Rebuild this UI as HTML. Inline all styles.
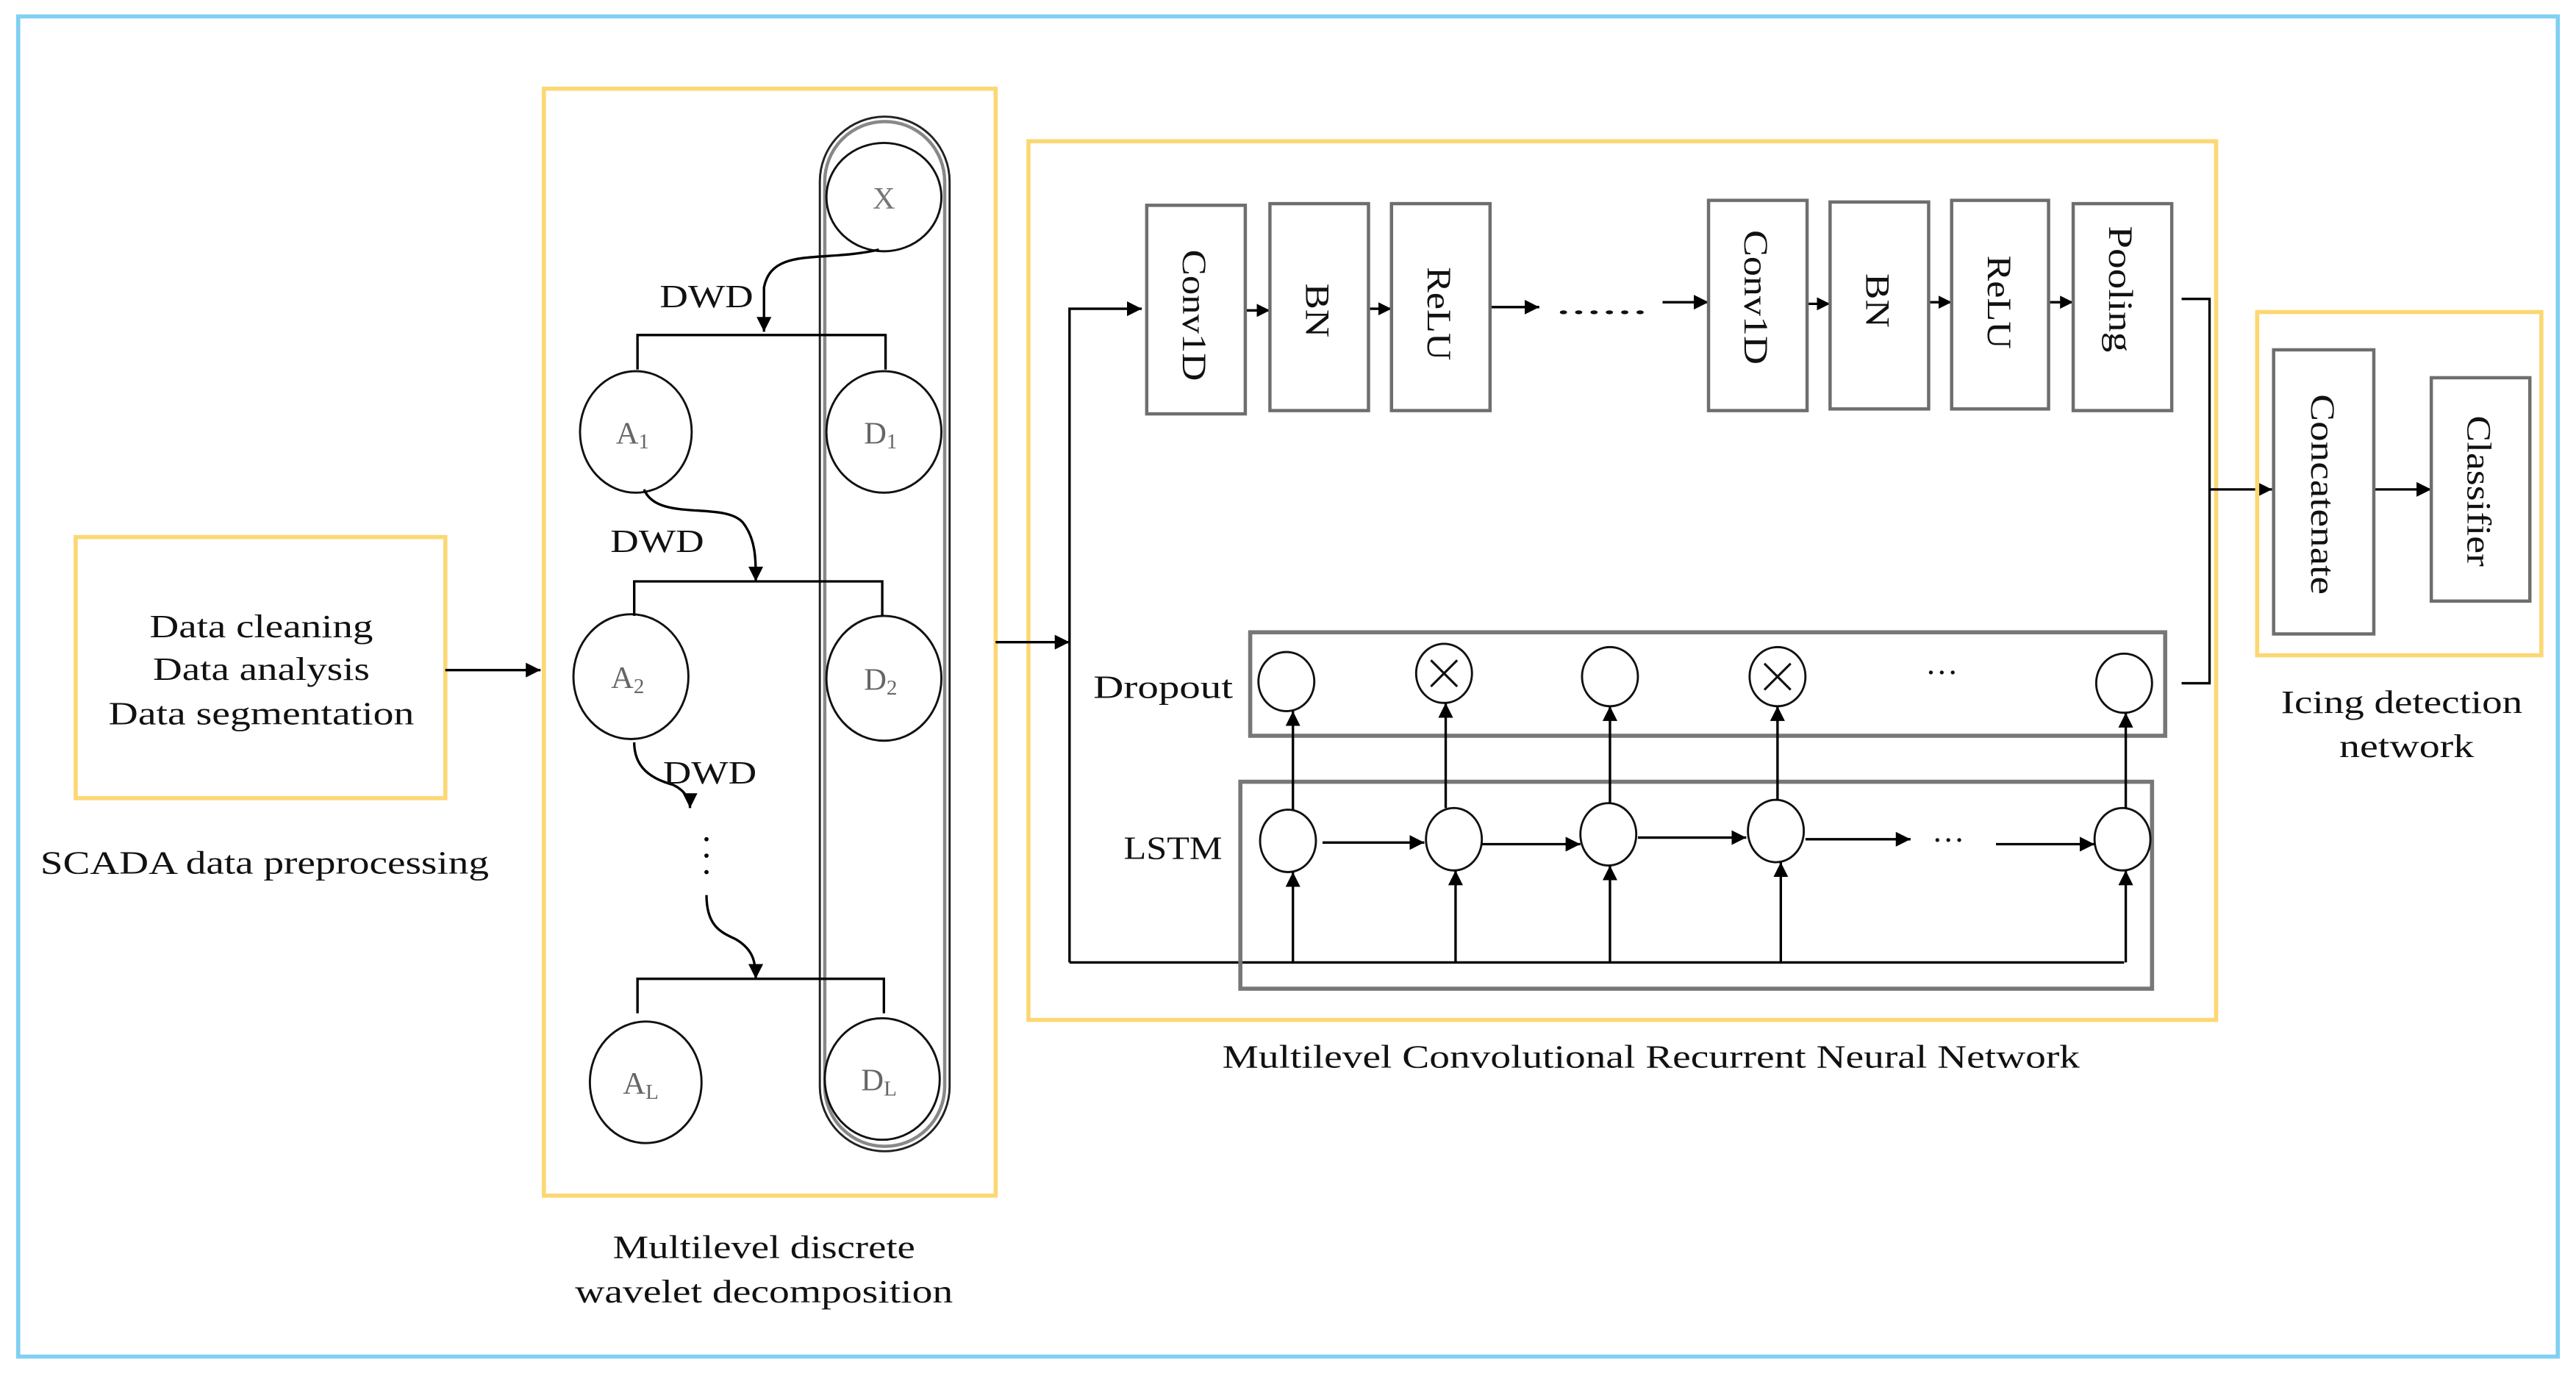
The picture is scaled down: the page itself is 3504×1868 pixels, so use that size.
<!DOCTYPE html>
<html><head><meta charset="utf-8"><style>
html,body{margin:0;padding:0;background:#fff;}
svg{display:block;}
text{font-family:"Liberation Serif",serif;fill:#111;}
</style></head><body>
<svg width="3504" height="1868" viewBox="0 0 1568 836" xmlns="http://www.w3.org/2000/svg">
<defs>
<marker id="a" viewBox="0 0 10 10" refX="10" refY="5" markerWidth="8" markerHeight="8" orient="auto" markerUnits="userSpaceOnUse"><path d="M0,0 L10,5 L0,10 z" fill="#000"/></marker>
<marker id="b" viewBox="0 0 10 10" refX="10" refY="5" markerWidth="9" markerHeight="9" orient="auto" markerUnits="userSpaceOnUse"><path d="M0,0 L10,5 L0,10 z" fill="#000"/></marker>
</defs>
<rect x="0" y="0" width="1568" height="836" fill="#fff"/>
<rect x="11" y="10" width="1546" height="816" fill="none" stroke="#7fd0f2" stroke-width="2.5"/>

<!-- SCADA -->
<rect x="46" y="327" width="225" height="159" fill="none" stroke="#fdd773" stroke-width="2.5"/>
<g font-size="20" text-anchor="middle">
<text x="159" y="388" textLength="136" lengthAdjust="spacingAndGlyphs">Data cleaning</text>
<text x="159" y="414" textLength="132" lengthAdjust="spacingAndGlyphs">Data analysis</text>
<text x="159" y="441" textLength="186" lengthAdjust="spacingAndGlyphs">Data segmentation</text>
<text x="161" y="532" textLength="273" lengthAdjust="spacingAndGlyphs">SCADA data preprocessing</text>
</g>
<line x1="271" y1="408" x2="329" y2="408" stroke="#000" stroke-width="1.5" marker-end="url(#b)"/>

<!-- DWD box -->
<rect x="331" y="54" width="275" height="674" fill="none" stroke="#fdd773" stroke-width="2.5"/>
<g font-size="20" text-anchor="middle">
<text x="465" y="766" textLength="184" lengthAdjust="spacingAndGlyphs">Multilevel discrete</text>
<text x="465" y="793" textLength="230" lengthAdjust="spacingAndGlyphs">wavelet decomposition</text>
</g>
<rect x="499" y="71" width="79" height="630" rx="39.5" fill="none" stroke="#222" stroke-width="1.3"/>
<rect x="502" y="74" width="73" height="624" rx="36.5" fill="none" stroke="#888" stroke-width="2"/>
<g fill="#fff" stroke="#111" stroke-width="1.3">
<ellipse cx="538" cy="120" rx="35" ry="33"/>
<ellipse cx="387" cy="263" rx="34" ry="37"/>
<ellipse cx="538" cy="263" rx="35" ry="37"/>
<ellipse cx="384" cy="412" rx="35" ry="38"/>
<ellipse cx="538" cy="413" rx="35" ry="38"/>
<ellipse cx="393" cy="659" rx="34" ry="37"/>
<ellipse cx="537" cy="657" rx="35" ry="37"/>
</g>
<g font-size="19" text-anchor="middle">
<text x="538" y="127" style="fill:#777">X</text>
<text x="385" y="270" style="fill:#666">A<tspan font-size="13" dy="3">1</tspan></text>
<text x="536" y="270" style="fill:#666">D<tspan font-size="13" dy="3">1</tspan></text>
<text x="382" y="419" style="fill:#666">A<tspan font-size="13" dy="3">2</tspan></text>
<text x="536" y="420" style="fill:#666">D<tspan font-size="13" dy="3">2</tspan></text>
<text x="390" y="666" style="fill:#666">A<tspan font-size="13" dy="3">L</tspan></text>
<text x="535" y="664" style="fill:#666">D<tspan font-size="13" dy="3">L</tspan></text>
</g>
<g fill="none" stroke="#000" stroke-width="1.5">
<path d="M388,225 V204 H539 V225"/>
<path d="M386,375 V354 H537 V375"/>
<path d="M388,617 V596 H538 V617"/>
<path d="M535,152 C500,160 470,150 465,175 L465,202" marker-end="url(#b)"/>
<path d="M392,298 C400,318 440,305 452,318 C460,328 460,340 460,354" marker-end="url(#b)"/>
<path d="M386,452 C386,470 400,475 410,478 C418,482 420,488 420,492" marker-end="url(#b)"/>
<path d="M430,545 C430,565 440,568 448,572 C458,578 460,585 460,596" marker-end="url(#b)"/>
</g>
<g font-size="20" text-anchor="middle">
<text x="430" y="187" textLength="57" lengthAdjust="spacingAndGlyphs">DWD</text>
<text x="400" y="336" textLength="57" lengthAdjust="spacingAndGlyphs">DWD</text>
<text x="432" y="477" textLength="57" lengthAdjust="spacingAndGlyphs">DWD</text>
</g>
<g fill="#000"><circle cx="430" cy="511" r="1.3"/><circle cx="430" cy="521" r="1.3"/><circle cx="430" cy="531" r="1.3"/></g>

<!-- MCRNN -->
<rect x="626" y="86" width="723" height="535" fill="none" stroke="#fdd773" stroke-width="2.5"/>
<text x="1005" y="650" font-size="20" text-anchor="middle" textLength="522" lengthAdjust="spacingAndGlyphs">Multilevel Convolutional Recurrent Neural Network</text>
<g stroke="#000" stroke-width="1.5" fill="none">
<line x1="606" y1="391" x2="651" y2="391" marker-end="url(#b)"/>
<path d="M651,586 V188 H695" marker-end="url(#b)"/>
<line x1="651" y1="586" x2="1293" y2="586"/>
<line x1="758" y1="189" x2="773" y2="189" marker-end="url(#a)"/>
<line x1="833" y1="188" x2="847" y2="188" marker-end="url(#a)"/>
<line x1="907" y1="187" x2="937" y2="187" marker-end="url(#b)"/>
<line x1="1012" y1="184" x2="1040" y2="184" marker-end="url(#b)"/>
<line x1="1100" y1="185" x2="1114" y2="185" marker-end="url(#a)"/>
<line x1="1174" y1="184" x2="1188" y2="184" marker-end="url(#a)"/>
<line x1="1247" y1="184" x2="1262" y2="184" marker-end="url(#a)"/>
<path d="M1328,182 H1345 V416 H1328"/>
<line x1="1345" y1="298" x2="1383" y2="298" marker-end="url(#b)"/>
<line x1="1445" y1="298" x2="1480" y2="298" marker-end="url(#b)"/>
</g>
<text x="975" y="191" font-size="20" text-anchor="middle" textLength="56" lengthAdjust="spacingAndGlyphs">......</text>
<g fill="#fff" stroke="#6e6e6e" stroke-width="2">
<rect x="698" y="125" width="60" height="127"/>
<rect x="773" y="124" width="60" height="126"/>
<rect x="847" y="124" width="60" height="126"/>
<rect x="1040" y="122" width="60" height="128"/>
<rect x="1114" y="123" width="60" height="126"/>
<rect x="1188" y="122" width="59" height="127"/>
<rect x="1262" y="124" width="60" height="126"/>
<rect x="1384" y="213" width="61" height="173"/>
<rect x="1480" y="230" width="60" height="136"/>
</g>
<g font-size="21" text-anchor="middle">
<text transform="translate(720,192) rotate(90)" textLength="80" lengthAdjust="spacingAndGlyphs">Conv1D</text>
<text transform="translate(795,189) rotate(90)" textLength="33" lengthAdjust="spacingAndGlyphs">BN</text>
<text transform="translate(869,191) rotate(90)" textLength="57" lengthAdjust="spacingAndGlyphs">ReLU</text>
<text transform="translate(1062,181) rotate(90)" textLength="82" lengthAdjust="spacingAndGlyphs">Conv1D</text>
<text transform="translate(1136,183) rotate(90)" textLength="33" lengthAdjust="spacingAndGlyphs">BN</text>
<text transform="translate(1210,184) rotate(90)" textLength="57" lengthAdjust="spacingAndGlyphs">ReLU</text>
<text transform="translate(1284,176) rotate(90)" textLength="77" lengthAdjust="spacingAndGlyphs">Pooling</text>
<text transform="translate(1407,301) rotate(90)" textLength="122" lengthAdjust="spacingAndGlyphs">Concatenate</text>
<text transform="translate(1502,299) rotate(90)" textLength="92" lengthAdjust="spacingAndGlyphs">Classifier</text>
</g>
<rect x="1374" y="190" width="173" height="209" fill="none" stroke="#fdd773" stroke-width="2.5"/>
<g font-size="20" text-anchor="middle">
<text x="1462" y="434" textLength="147" lengthAdjust="spacingAndGlyphs">Icing detection</text>
<text x="1465" y="461" textLength="82" lengthAdjust="spacingAndGlyphs">network</text>
</g>

<!-- Dropout / LSTM -->
<rect x="761" y="385" width="557" height="63" fill="none" stroke="#777" stroke-width="2.5"/>
<rect x="755" y="476" width="555" height="126" fill="none" stroke="#777" stroke-width="2.5"/>
<text x="708" y="425" font-size="20" text-anchor="middle" textLength="85" lengthAdjust="spacingAndGlyphs">Dropout</text>
<text x="714" y="523" font-size="20" text-anchor="middle" textLength="60" lengthAdjust="spacingAndGlyphs">LSTM</text>
<g fill="#fff" stroke="#111" stroke-width="1.3">
<ellipse cx="783" cy="415" rx="17" ry="18"/>
<ellipse cx="879" cy="410" rx="17" ry="18"/>
<ellipse cx="980" cy="412" rx="17" ry="18"/>
<ellipse cx="1082" cy="412" rx="17" ry="18"/>
<ellipse cx="1293" cy="416" rx="17" ry="18"/>
<ellipse cx="784" cy="512" rx="17" ry="19"/>
<ellipse cx="885" cy="511" rx="17" ry="19"/>
<ellipse cx="979" cy="508" rx="17" ry="19"/>
<ellipse cx="1081" cy="506" rx="17" ry="19"/>
<ellipse cx="1292" cy="511" rx="17" ry="19"/>
</g>
<g stroke="#111" stroke-width="1.4">
<line x1="871" y1="402" x2="887" y2="418"/><line x1="887" y1="402" x2="871" y2="418"/>
<line x1="1074" y1="404" x2="1090" y2="420"/><line x1="1090" y1="404" x2="1074" y2="420"/>
</g>
<g stroke="#000" stroke-width="1.5" fill="none">
<line x1="805" y1="513" x2="867" y2="513" marker-end="url(#b)"/>
<line x1="902" y1="514" x2="962" y2="514" marker-end="url(#b)"/>
<line x1="997" y1="510" x2="1063" y2="510" marker-end="url(#b)"/>
<line x1="1099" y1="511" x2="1163" y2="511" marker-end="url(#b)"/>
<line x1="1215" y1="514" x2="1275" y2="514" marker-end="url(#b)"/>
<line x1="787" y1="493" x2="787" y2="433" marker-end="url(#b)"/>
<line x1="880" y1="492" x2="880" y2="428" marker-end="url(#b)"/>
<line x1="980" y1="489" x2="980" y2="430" marker-end="url(#b)"/>
<line x1="1082" y1="487" x2="1082" y2="430" marker-end="url(#b)"/>
<line x1="1294" y1="492" x2="1294" y2="434" marker-end="url(#b)"/>
<line x1="787" y1="586" x2="787" y2="531" marker-end="url(#b)"/>
<line x1="886" y1="586" x2="886" y2="530" marker-end="url(#b)"/>
<line x1="980" y1="586" x2="980" y2="527" marker-end="url(#b)"/>
<line x1="1084" y1="586" x2="1084" y2="525" marker-end="url(#b)"/>
<line x1="1294" y1="586" x2="1294" y2="530" marker-end="url(#b)"/>
</g>
<text x="1182" y="416" font-size="20" text-anchor="middle">···</text>
<text x="1186" y="518" font-size="20" text-anchor="middle">···</text>
</svg>
</body></html>
